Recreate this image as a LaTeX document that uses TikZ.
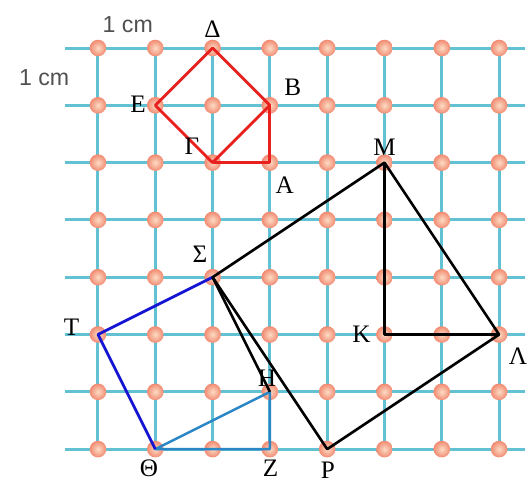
\documentclass[tikz,border=0pt]{standalone}
\usepackage{fontspec}
\setmainfont{Liberation Serif}
\setsansfont{Liberation Sans}
\usetikzlibrary{calc}
\definecolor{GridBlue}{HTML}{62C2D4}
\definecolor{DotIn}{HTML}{FCDCC4}
\definecolor{DotOut}{HTML}{F28A72}
\definecolor{SqRed}{HTML}{E8201E}
\definecolor{SqBlue}{HTML}{1414D2}
\definecolor{TriBlue}{HTML}{2A86C4}
\definecolor{CmGray}{HTML}{505050}

\begin{document}
\begin{tikzpicture}[
      gridline/.style={GridBlue, line width=1.5pt},
      lbl/.style={font=\fontsize{12.5}{14}\selectfont, inner sep=0pt},
      unitlbl/.style={font=\sffamily\fontsize{11.5}{13}\selectfont, text=CmGray, inner sep=0pt},
      redline/.style={SqRed, line width=1.4pt, line join=round},
      bsq/.style={SqBlue, line width=1.4pt, line join=round},
      btri/.style={TriBlue, line width=1.2pt, line join=round},
      blk/.style={black, line width=1.3pt, line join=round},
    ]
      \useasboundingbox (-1.710,-0.611) rectangle (7.487,7.838);
      % grid
      \foreach \r in {0,...,7}
        \draw[gridline] (-0.576,\r) -- (7.45,\r);
      \foreach \c in {0,...,7}
        \draw[gridline] (\c,0) -- (\c,7);
      \foreach \c in {0,...,7}
        \foreach \r in {0,...,7}
          \shade[inner color=DotIn, outer color=DotOut] (\c,\r) circle (0.145);
      % points
      \coordinate (D) at (2,7);   \coordinate (B) at (3,6);
      \coordinate (E) at (1,6);   \coordinate (G) at (2,5);
      \coordinate (A) at (3,5);   \coordinate (M) at (5,5);
      \coordinate (S) at (2,3);   \coordinate (L) at (7,2);
      \coordinate (K) at (5,2);   \coordinate (P) at (4,0);
      \coordinate (T) at (0,2);   \coordinate (Th) at (1,0);
      \coordinate (H) at (3,1);   \coordinate (Z) at (3,0);
      % red square and triangle
      \draw[redline] (D) -- (B) -- (G) -- (E) -- cycle;
      \draw[redline] (B) -- (A) -- (G);
      % blue square and triangle
      \draw[btri] (Th) -- (H) -- (Z) -- cycle;
      \draw[bsq] (S) -- (T) -- (Th);
      % black square and triangle
      \draw[blk] (S) -- (M) -- (L) -- (P) -- cycle;
      \draw[blk] (S) -- (H);
      \draw[blk] (M) -- (K) -- (L);
      % labels
      \node[unitlbl] (cmtop) at (0.52,7.40) {1 cm};
      \node[unitlbl] (cmleft) at (-0.94,6.49) {1 cm};
      \node[lbl] (lD) at ($(D)+(0,0.33)$) {Δ};
      \node[lbl] (lB) at ($(B)+(0.40,0.32)$) {Β};
      \node[lbl] (lE) at ($(E)+(-0.30,0.02)$) {Ε};
      \node[lbl] (lG) at ($(G)+(-0.36,0.29)$) {Γ};
      \node[lbl] (lA) at ($(A)+(0.26,-0.39)$) {Α};
      \node[lbl] (lM) at ($(M)+(0,0.27)$) {Μ};
      \node[lbl] (lK) at ($(K)+(-0.40,0)$) {Κ};
      \node[lbl] (lL) at ($(L)+(0.33,-0.38)$) {Λ};
      \node[lbl] (lS) at ($(S)+(-0.22,0.40)$) {Σ};
      \node[lbl] (lT) at ($(T)+(-0.46,0.13)$) {Τ};
      \node[lbl] (lH) at ($(H)+(-0.05,0.24)$) {Η};
      \node[lbl] (lTh) at ($(Th)+(-0.11,-0.33)$) {Θ};
      \node[lbl] (lZ) at ($(Z)+(0.01,-0.33)$) {Ζ};
      \node[lbl] (lP) at ($(P)+(0.01,-0.36)$) {Ρ};
    \end{tikzpicture}
\end{document}
